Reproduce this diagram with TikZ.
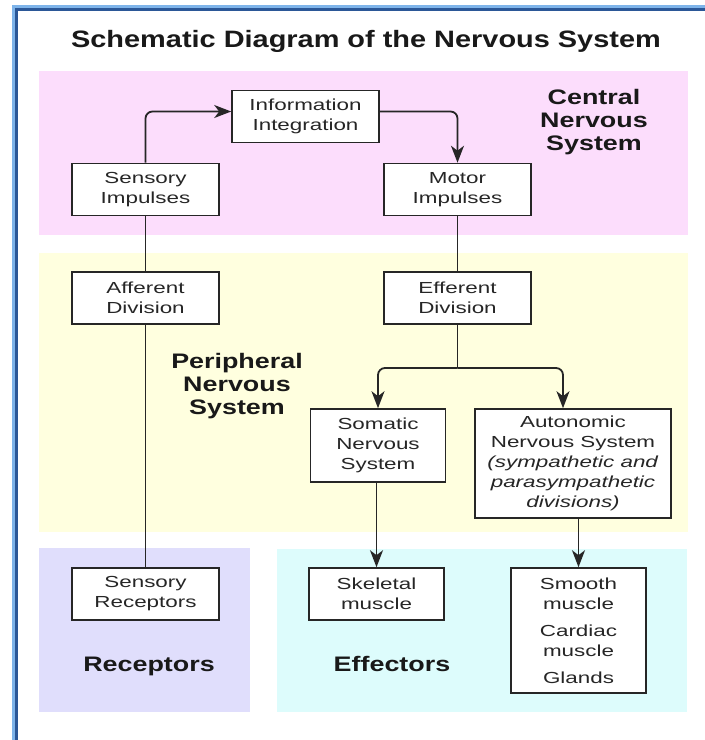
\documentclass[tikz,border=0pt]{standalone}
\usepackage{fontspec}
\setmainfont{Liberation Sans}
\newfontfamily\titlefont{Liberation Sans}[FakeStretch=1.22]
\newfontfamily\boxfont{Liberation Sans}[FakeStretch=1.4]
\newfontfamily\areafont{Liberation Sans}[FakeStretch=1.28]
\usetikzlibrary{arrows.meta}
\definecolor{cnspink}{HTML}{FCDDFC}
\definecolor{pnsyellow}{HTML}{FFFFDF}
\definecolor{recpurple}{HTML}{E0DEFC}
\definecolor{effcyan}{HTML}{DDFCFC}
\definecolor{rimlight}{HTML}{7EB4EA}
\definecolor{rimdark}{HTML}{2B5797}

\begin{document}
\begin{tikzpicture}[x=1pt, y=-1pt,
	unit/.style={draw=black!85, line width=1.6pt, fill=white, align=center, inner sep=0pt,
		text=black!85, font=\boxfont\fontsize{16}{20}\selectfont,
		minimum width=147pt, minimum height=52pt},
	area/.style={align=center, text=black!90, font=\areafont\bfseries\fontsize{21}{23}\selectfont},
	flow/.style={line width=1.8pt, draw=black!85},
	>={Stealth[length=17pt,width=13pt,inset=5pt]}]
	\useasboundingbox (0,0) rectangle (705,740);
	\fill[white] (0,0) rectangle (705,740);

	% draw window rim
	\fill[rimlight] (12,5) rectangle (705,8);
	\fill[rimdark] (15,8) rectangle (705,11);
	\fill[rimlight] (12,5) rectangle (15,740);
	\fill[rimdark] (15,8) rectangle (18,740);

	% draw coloured areas
	\fill[cnspink] (39,71) rectangle (688,235);
	\fill[pnsyellow] (39,253) rectangle (688,532);
	\fill[recpurple] (39,548) rectangle (250,712);
	\fill[effcyan] (277,549) rectangle (687,712);

	% draw labels
	\node[font=\titlefont\bfseries\fontsize{23.7}{28}\selectfont, text=black!90, anchor=base] (title) at (366,47) {Schematic Diagram of the Nervous System};
	\node[area] (cns) at (594,122) {Central\\Nervous\\System};
	\node[area] (pns) at (237,386) {Peripheral\\Nervous\\System};
	\node[area, anchor=base] (rec) at (149,671) {Receptors};
	\node[area, anchor=base] (eff) at (392,671) {Effectors};

	% draw boxes
	\node[unit] (info) at (305.5,116.5) {Information\\Integration};
	\node[unit] (simp) at (145.5,189.5) {Sensory\\Impulses};
	\node[unit] (motor) at (457.5,189.5) {Motor\\Impulses};
	\node[unit] (afferent) at (145.5,298) {Afferent\\Division};
	\node[unit] (efferent) at (457.5,298) {Efferent\\Division};
	\node[unit, minimum width=135pt, minimum height=73pt] (somatic) at (378,445.5) {Somatic\\Nervous\\System};
	\node[unit, minimum width=196pt, minimum height=109pt] (autonomic) at (573,463.5)
		{Autonomic\\Nervous System\\\textit{(sympathetic and}\\\textit{parasympathetic}\\\textit{divisions)}};
	\node[unit] (srec) at (145.5,594) {Sensory\\Receptors};
	\node[unit, minimum width=135pt] (skel) at (376.5,594) {Skeletal\\muscle};
	\node[unit, minimum width=135pt, minimum height=125pt] (smooth) at (578.5,630.5)
		{Smooth\\muscle\\[7pt]Cardiac\\muscle\\[7pt]Glands};

	% draw connectors
	\draw[flow, ->, rounded corners=7pt] (simp.north) |- ([yshift=5pt]info.west);
	\draw[flow, ->, rounded corners=7pt] ([yshift=5pt]info.east) -| (motor.north);
	\draw[flow] (simp.south) -- (afferent.north);
	\draw[flow] (afferent.south) -- (srec.north);
	\draw[flow] (motor.south) -- (efferent.north);
	\coordinate (split) at (457.5,368);
	\draw[flow] (efferent.south) -- (split);
	\draw[flow, ->, rounded corners=7pt] (split) -| (somatic.north);
	\draw[flow, ->, rounded corners=7pt] (split) -| ([xshift=-10pt]autonomic.north);
	\draw[flow, ->] (skel.north |- somatic.south) -- (skel.north);
	\draw[flow, ->] (smooth.north |- autonomic.south) -- (smooth.north);
\end{tikzpicture}
\end{document}
